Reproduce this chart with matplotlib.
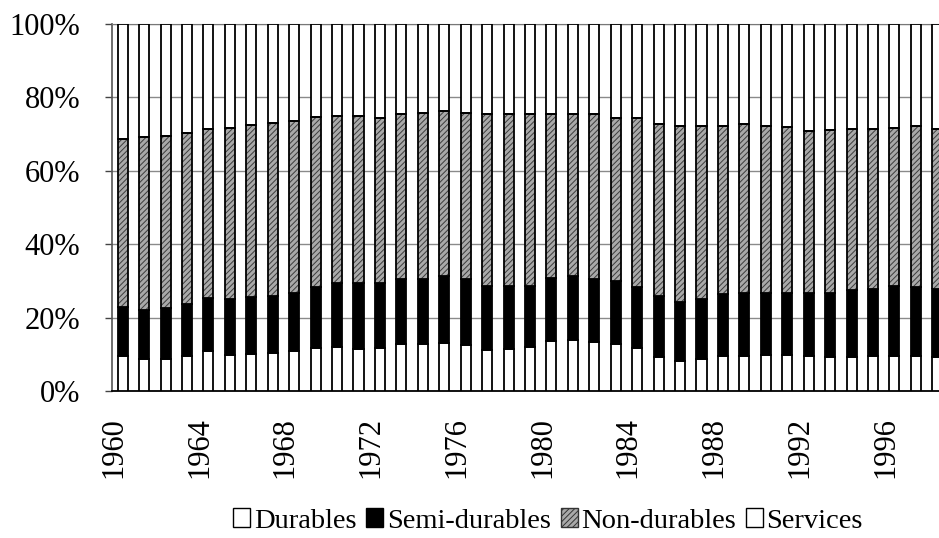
import matplotlib
matplotlib.use("Agg")
import matplotlib.pyplot as plt
import matplotlib.transforms as mtransforms
from matplotlib.patches import Patch
import numpy as np

plt.rcParams['font.family'] = ['Liberation Serif', 'DejaVu Serif']
plt.rcParams['hatch.linewidth'] = 0.7

years = list(range(1960, 1999))
durables = [9.5, 8.6, 8.6, 9.6, 10.8, 9.7, 10.2, 10.4, 10.8, 11.6,
            12.0, 11.5, 11.8, 12.9, 12.7, 13.2, 12.5, 11.1, 11.5, 12.0,
            13.7, 14.0, 13.4, 12.7, 11.7, 9.3, 8.2, 8.8, 9.5, 9.5,
            9.7, 9.7, 9.5, 9.3, 9.2, 9.5, 9.6, 9.6, 9.3]
semi_durables = [13.4, 13.4, 13.9, 14.2, 14.6, 15.3, 15.4, 15.4, 15.8, 16.8,
                 17.3, 18.0, 17.7, 17.7, 17.8, 18.1, 17.9, 17.5, 17.1, 16.6,
                 17.2, 17.3, 17.2, 17.2, 16.7, 16.5, 16.1, 16.4, 16.9, 17.1,
                 17.0, 17.1, 17.1, 17.5, 18.2, 18.2, 18.9, 18.7, 18.4]
non_durables = [45.9, 47.3, 47.0, 46.4, 46.1, 46.7, 47.0, 47.1, 46.9, 46.3,
                45.6, 45.4, 45.0, 45.0, 45.3, 45.0, 45.4, 46.8, 47.0, 47.0,
                44.7, 44.3, 45.0, 44.6, 45.9, 46.9, 47.9, 47.0, 45.8, 46.1,
                45.6, 45.2, 44.3, 44.3, 44.0, 43.7, 43.2, 43.9, 43.8]
services = [31.2, 30.7, 30.5, 29.8, 28.5, 28.3, 27.4, 27.1, 26.5, 25.3,
            25.1, 25.1, 25.5, 24.4, 24.2, 23.7, 24.2, 24.6, 24.4, 24.4,
            24.4, 24.4, 24.4, 25.5, 25.7, 27.3, 27.8, 27.8, 27.8, 27.3,
            27.7, 28.0, 29.1, 28.9, 28.6, 28.6, 28.3, 27.8, 28.5]
series_names = ['Durables', 'Semi-durables', 'Non-durables', 'Services']
y_ticks = [0, 20, 40, 60, 80, 100]
y_tick_labels = ['0%', '20%', '40%', '60%', '80%', '100%']
x_tick_years = list(range(1960, 1999, 4))

fig = plt.figure(figsize=(9.39, 5.38), dpi=100)
ax = fig.add_axes([112 / 939, 1 - 391 / 538, (948 - 112) / 939, (391 - 24) / 538])

x = np.arange(len(years))
d = np.array(durables)
s = np.array(semi_durables)
n = np.array(non_durables)
sv = np.array(services)
tot = d + s + n + sv
d, s, n, sv = [a / tot * 100 for a in (d, s, n, sv)]

w = 0.47
lw = 1.3
nd_face = '#a9a9a9'
nd_hatch = '#3c3c3c'
ax.bar(x, d, w, color='white', edgecolor='black', linewidth=lw, zorder=3)
ax.bar(x, s, w, bottom=d, color='black', edgecolor='black', linewidth=lw, zorder=3)
ax.bar(x, n, w, bottom=d + s, color=nd_face, edgecolor=nd_hatch, hatch='//////',
       linewidth=0, zorder=3)
ax.bar(x, n, w, bottom=d + s, fill=False, edgecolor='black', linewidth=lw, zorder=4)
ax.bar(x, sv, w, bottom=d + s + n, color='white', edgecolor='black', linewidth=lw, zorder=3)

ax.set_xlim(-0.5, len(years) - 0.5)
ax.set_ylim(0, 100)
ax.set_yticks(y_ticks)
ax.set_yticklabels(y_tick_labels, fontsize=22)
ax.yaxis.grid(True, color='#8a8a8a', linewidth=1.0, zorder=0)
ax.set_axisbelow(True)

tick_pos = [years.index(yv) for yv in x_tick_years]
ax.set_xticks(tick_pos)
ax.set_xticklabels([str(yv) for yv in x_tick_years], rotation=90, fontsize=22)
ax.tick_params(axis='x', length=0, pad=19)
ax.tick_params(axis='y', length=5, width=1, direction='out', pad=18, color='#444444')
offset = mtransforms.ScaledTranslation(-9 / 100, 0, fig.dpi_scale_trans)
for lab in ax.get_xticklabels():
    lab.set_transform(lab.get_transform() + offset)

ax.spines['right'].set_visible(False)
ax.spines['top'].set_color('#777777')
ax.spines['left'].set_color('#555555')
ax.spines['left'].set_linewidth(1.2)
ax.spines['bottom'].set_color('black')
ax.spines['bottom'].set_linewidth(1.3)

handles = [
    Patch(facecolor='white', edgecolor='black', linewidth=1.0),
    Patch(facecolor='black', edgecolor='black', linewidth=1.0),
    Patch(facecolor=nd_face, edgecolor='#333333', hatch='//////', linewidth=1.0),
    Patch(facecolor='white', edgecolor='black', linewidth=1.0),
]
fig.legend(handles, series_names, loc='center', bbox_to_anchor=(548 / 939, 1 - 521 / 538),
           ncol=4, frameon=False, fontsize=20.5, handlelength=0.6, handleheight=0.6,
           handletextpad=0.12, columnspacing=0.35, borderaxespad=0)

fig.savefig('out.png', dpi=100)
